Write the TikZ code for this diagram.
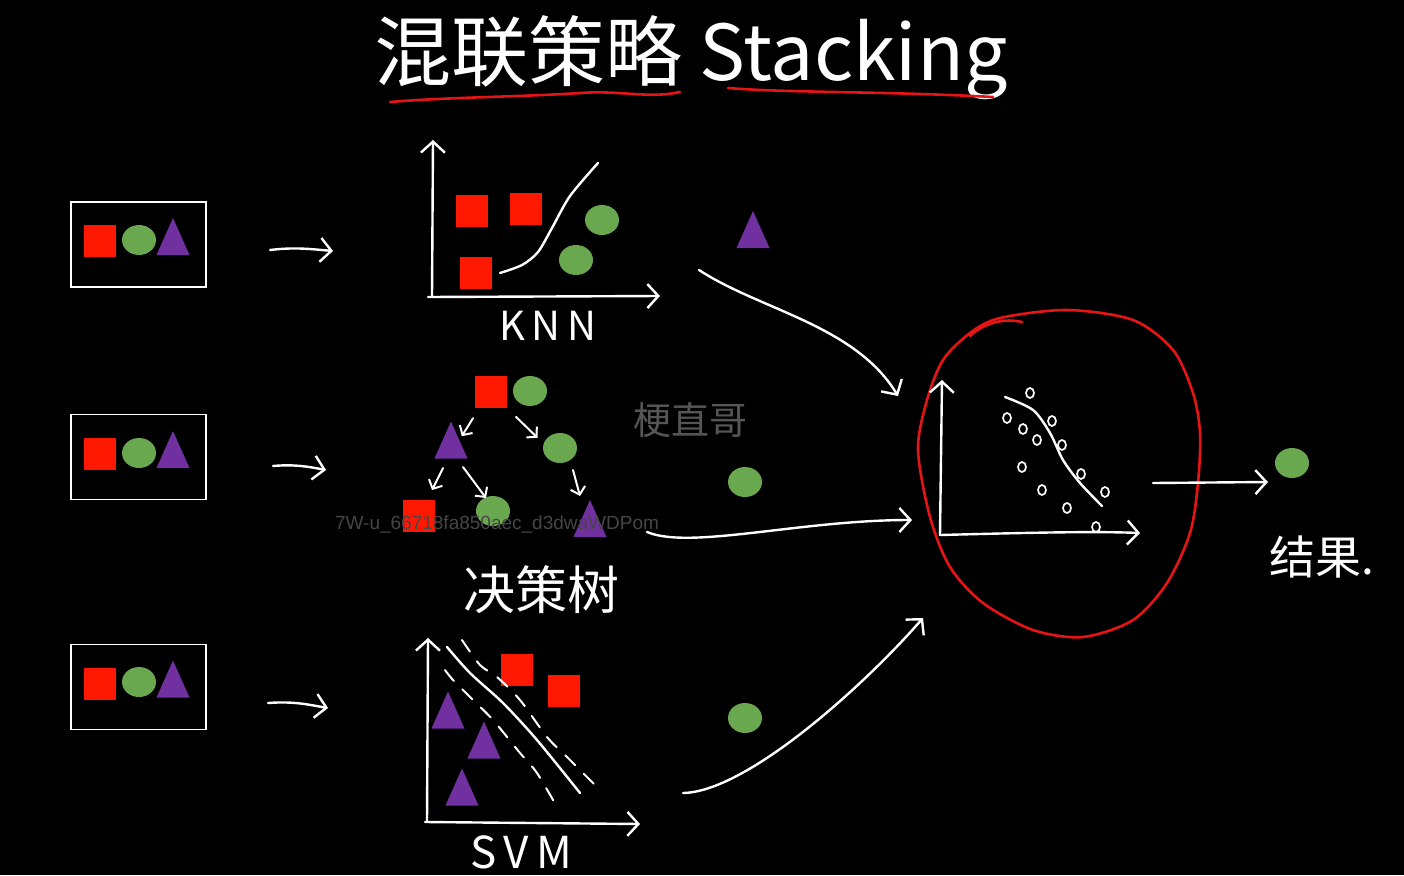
\documentclass[tikz,border=0pt]{standalone}
\usepackage{fontspec}
\newfontfamily\cjk{Noto Sans CJK SC}
\newfontfamily\wmfont{Liberation Sans}
\usetikzlibrary{shapes.geometric,arrows.meta,calc}
\definecolor{sqred}{RGB}{255,24,0}
\definecolor{cgreen}{RGB}{106,168,79}
\definecolor{tpurple}{RGB}{112,48,160}
\definecolor{wmgray}{RGB}{70,70,70}
\definecolor{wmgray2}{RGB}{85,85,85}
\definecolor{inkred}{RGB}{230,20,20}
\begin{document}
\begin{tikzpicture}[x=1pt,y=-1pt,
  sq/.style={fill=sqred, minimum size=32pt, inner sep=0pt},
  ci/.style={ellipse, fill=cgreen, minimum width=34pt, minimum height=30pt, inner sep=0pt},
  tri/.style={fill=black, minimum width=33pt, minimum height=37pt, inner sep=0pt,
    path picture={\fill[tpurple] (path picture bounding box.south west) -- (path picture bounding box.south east) -- (path picture bounding box.north) -- cycle;}},
  inbox/.style={draw=white, line width=1.6pt, minimum width=135pt, minimum height=85pt, inner sep=0pt},
  ink/.style={draw=white, line width=2.4pt, line cap=round, line join=round},
  inkarrow/.style={ink, -{Straight Barb[length=11pt,width=24pt]}},
  smallarrow/.style={ink, line width=2pt, -{Straight Barb[length=7pt,width=15pt]}},
  redink/.style={draw=inkred, line width=2.6pt, line cap=round, line join=round},
  dot/.style={draw=white, line width=1.7pt},
  hand/.style={text=white, font=\cjk, inner sep=0pt}
]
\useasboundingbox (0,0) rectangle (1404,875);
\fill[black] (0,0) rectangle (1404,875);

% ---------- title ----------
\node[hand, anchor=base, font=\cjk\fontsize{77}{77}\selectfont] (title) at (691,80) {混联策略 Stacking};
\draw[redink] (390,102) .. controls (450,97) and (520,97) .. (580,93) .. controls (620,90) and (650,99) .. (680,92);
\draw[redink] (728,88) .. controls (790,93) and (880,91) .. (993,97);

% ---------- input boxes ----------
\node[inbox] (box1) at (138.5,244.5) {};
\node[sq] (b1s) at (99.5,240.5) {};
\node[ci] (b1c) at (139,240) {};
\node[tri] (b1t) at (173,236.5) {};

\node[inbox] (box2) at (138.5,457) {};
\node[sq] (b2s) at (99.5,453.5) {};
\node[ci] (b2c) at (139,453) {};
\node[tri] (b2t) at (173,449.5) {};

\node[inbox] (box3) at (138.5,687) {};
\node[sq] (b3s) at (99.5,683.5) {};
\node[ci] (b3c) at (139,682) {};
\node[tri] (b3t) at (173,679) {};

\coordinate (i1s) at (270,250); \coordinate (i1e) at (333,251);
\coordinate (i2s) at (273,466); \coordinate (i2e) at (326,470);
\coordinate (i3s) at (268,703); \coordinate (i3e) at (328,708);
\draw[inkarrow] (i1s) .. controls (295,247) and (310,249) .. (i1e);
\draw[inkarrow] (i2s) .. controls (295,464) and (310,467) .. (i2e);
\draw[inkarrow] (i3s) .. controls (295,701) and (310,705) .. (i3e);

% ---------- KNN ----------
\coordinate (kO) at (432,296);
\coordinate (kY) at (433,140);
\coordinate (kX) at (660,296);
\node[sq] (k1) at (472,211) {};
\node[sq] (k2) at (526,209) {};
\node[sq] (k3) at (476,272.5) {};
\node[ci] (k4) at (602,220) {};
\node[ci] (k5) at (576,260) {};
\draw[inkarrow] (kO) -- (kY);
\draw[inkarrow] (428,297) -- (kX);
\draw[ink] plot[smooth] coordinates {(500,273) (522,265) (538,252) (552,228) (570,196) (598,163)};
\node[hand, anchor=base, font=\cjk\fontsize{40}{40}\selectfont] (knn) at (548,340) {K\,N\,N};

\node[tri] (kt) at (753,229.5) {};

% ---------- decision tree ----------
\node[sq] (r) at (491,391.5) {};
\node[ci] (rc) at (530,391) {};
\node[tri] (t1) at (451,440) {};
\node[ci] (c1) at (560,448) {};
\node[sq] (s2) at (419,515.5) {};
\node[ci] (c2) at (493,511) {};
\node[tri] (t2) at (590,518.5) {};
\draw[smallarrow] ($(r)!0.55!(t1)+(4,0)$) -- ($(r)!0.88!(t1)+(6,2)$);
\draw[smallarrow] ($(r)!0.45!(c1)+(-6,0)$) -- ($(r)!0.82!(c1)+(-10,0)$);
\draw[smallarrow] (443,468) -- (432,490);
\draw[smallarrow] (463,467) -- (486,498);
\draw[smallarrow] (573,470) -- (580,496);
\node[hand, font=\cjk\fontsize{52}{52}\selectfont] (dt) at (541,590) {决策树};

\node[ci] (g2) at (745,482) {};

% ---------- SVM ----------
\coordinate (sO) at (427,822);
\coordinate (sY) at (428,638);
\coordinate (sX) at (640,824);
\node[sq] (v1) at (516.5,670) {};
\node[sq] (v2) at (564,691) {};
\node[tri] (v3) at (448,710) {};
\node[tri] (v4) at (484,740) {};
\node[tri] (v5) at (462,787) {};
\draw[inkarrow] (sO) -- (sY);
\draw[inkarrow] (425,822) -- (sX);
\draw[ink] plot[smooth] coordinates {(447,647) (470,673) (503,703) (537,740) (580,793)};
\draw[ink, line width=2pt, dash pattern=on 14pt off 12pt] plot[smooth] coordinates {(462,640) (480,665) (497,677) (520,700) (547,737) (567,757) (600,790)};
\draw[ink, line width=2pt, dash pattern=on 14pt off 12pt] plot[smooth] coordinates {(445,670) (453,680) (470,697) (493,720) (520,753) (537,773) (557,807)};
\node[hand, anchor=base, font=\cjk\fontsize{44}{44}\selectfont] (svm) at (521,868) {S\,V\,M};

\node[ci] (g3) at (745,718) {};

% ---------- meta model ----------
\draw[redink] plot[smooth cycle] coordinates {(970,333) (1000,318) (1067,310) (1133,320) (1173,350) (1193,393) (1200,433) (1198,483) (1190,533) (1167,583) (1133,620) (1083,637) (1033,630) (983,603) (950,567) (930,517) (918,450) (927,400) (943,360)};
\draw[redink] (970,336) .. controls (985,322) and (1005,318) .. (1022,322);
\coordinate (mO) at (940,535);
\coordinate (mY) at (942,380);
\coordinate (mX) at (1140,533);
\draw[inkarrow] (mO) -- (mY);
\draw[inkarrow] (mO) .. controls (1020,533) and (1090,531) .. (mX);
\draw[ink] plot[smooth] coordinates {(1005,397) (1033,410) (1050,433) (1063,460) (1080,483) (1102,506)};
\foreach \p in {(1030,393),(1007,418),(1052,421),(1023,429),(1037,440),(1062,445),(1022,467),(1081,474),(1042,490),(1105,492),(1067,508),(1096,527)}
  \draw[dot] \p ellipse[x radius=4pt, y radius=5pt];

% ---------- connectors to meta model ----------
\coordinate (m1s) at (699,270); \coordinate (m1e) at (898,396);
\coordinate (m2s) at (647,532); \coordinate (m2e) at (912,520);
\coordinate (m3s) at (683,793); \coordinate (m3e) at (923,618);
\draw[inkarrow] (m1s) .. controls (760,310) and (855,325) .. (m1e);
\draw[inkarrow] (m2s) .. controls (690,550) and (800,520) .. (m2e);
\draw[inkarrow] (m3s) .. controls (745,792) and (860,690) .. (m3e);

% ---------- result ----------
\coordinate (os) at (1153,483);
\coordinate (oe) at (1268,482);
\draw[inkarrow] (os) -- (oe);
\node[ci] (res) at (1292,463) {};
\node[hand, font=\cjk\fontsize{46}{46}\selectfont] (reslabel) at (1322,557) {结果.};

% ---------- watermarks ----------
\node[text=wmgray2, font=\cjk\fontsize{38}{38}\selectfont, inner sep=0pt] (wm1) at (690,420) {梗直哥};
\node[text=wmgray, font=\wmfont\fontsize{19}{19}\selectfont, inner sep=0pt] (wm2) at (497,524) {7W-u\_66718fa850aec\_d3dwaWDPom};
\end{tikzpicture}
\end{document}
